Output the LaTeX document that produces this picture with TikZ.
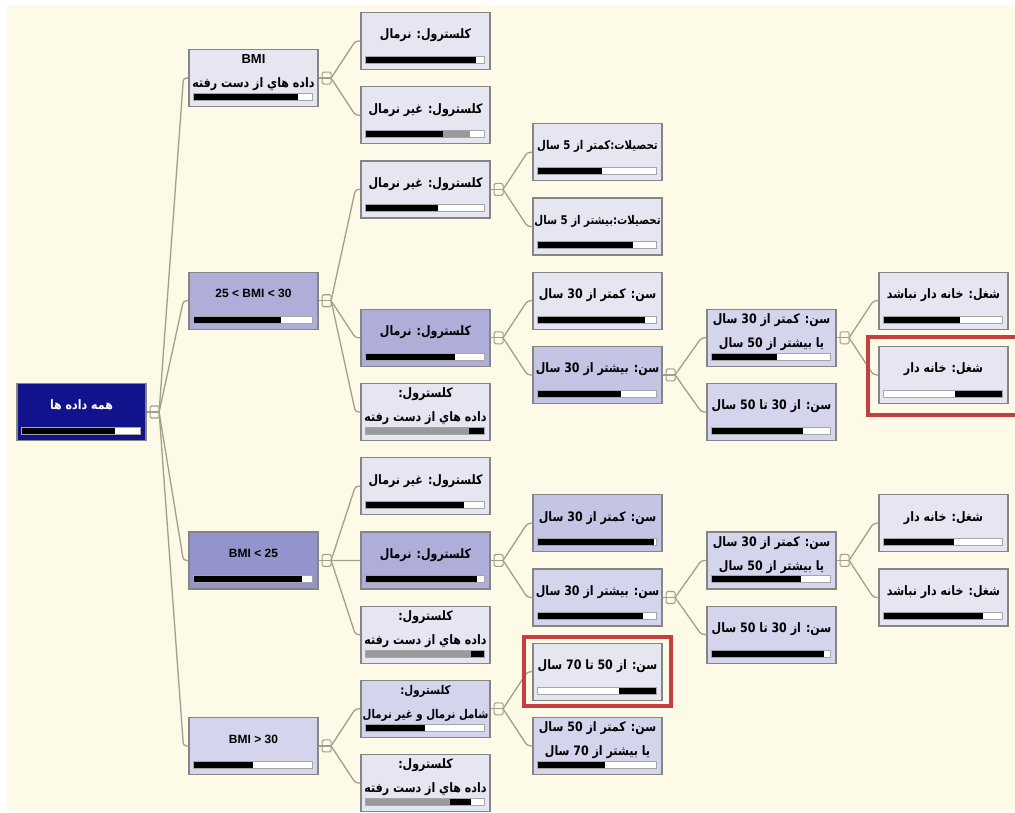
\documentclass[tikz,border=0pt]{standalone}
\usepackage{fontspec}
\setmainfont{Liberation Sans}
\newfontfamily\fafont[Script=Arabic, FakeStretch=0.85]{DejaVu Sans}
\TeXXeTstate=1
\newcommand{\fatext}[1]{{\fafont\bfseries\beginR #1\endR}}
\usetikzlibrary{positioning}

\definecolor{cream}{HTML}{FEFAE8}
\definecolor{boxline}{HTML}{858585}
\definecolor{linkcol}{HTML}{A19F8E}
\definecolor{navy}{HTML}{12128C}
\definecolor{lvA}{HTML}{E6E6F3}
\definecolor{lvB}{HTML}{D4D4EC}
\definecolor{lvC}{HTML}{C4C4E4}
\definecolor{lvD}{HTML}{AEAED9}
\definecolor{lvE}{HTML}{9494CD}
\definecolor{bargray}{HTML}{9A9A9A}
\definecolor{hired}{HTML}{C63E3E}

\begin{document}
\begin{tikzpicture}[
        node distance=16pt and 41.8pt,
        box/.style={draw=boxline, line width=1.2pt, fill=lvA, minimum width=129pt, minimum height=57pt,
            inner xsep=1pt, inner ysep=0pt, align=center, text depth=14pt, font=\fontsize{13}{24}\selectfont},
        small/.style={font=\fontsize{12}{24}\selectfont},
        latin/.style={font=\fontsize{12}{24}\selectfont\bfseries},
        link/.style={draw=linkcol, line width=1.3pt, rounded corners=3pt},
        knob/.style={draw=linkcol, line width=1.1pt, rounded corners=1.5pt},
        hilite/.style={draw=hired, line width=4pt}
    ]

    % قاب و پس زمینه
    \useasboundingbox (0,0) rectangle (1015pt,-812pt);
    \fill[cream] (7pt,-5pt) rectangle (1015pt,-809pt);

    % ریشه
    \node (root) [box, fill=navy, text=white] at (81.5pt,-412pt) {\fatext{همه داده ها}};

    % BMI
    \node (bmi2530) [box, latin, fill=lvD, right=of root, yshift=111.3pt] {25 < BMI < 30};
    \node (bmiA) [box, above=164.4pt of bmi2530] {\textbf{BMI}\\\fatext{داده هاي از دست رفته}};
    \node (bmiLow) [box, latin, fill=lvE, below=201.5pt of bmi2530] {BMI < 25};
    \node (bmiHigh) [box, latin, fill=lvB, below=127.3pt of bmiLow] {BMI > 30};

    % کلسترول
    \node (cholN1) [box, right=of bmiA, yshift=37.1pt] {\fatext{کلسترول: نرمال}};
    \node (cholAb1) [box, below=of cholN1] {\fatext{کلسترول: غیر نرمال}};
    \node (cholAb2) [box, below=of cholAb1] {\fatext{کلسترول: غیر نرمال}};
    \node (cholN2) [box, fill=lvD, below=90.2pt of cholAb2] {\fatext{کلسترول: نرمال}};
    \node (cholM2) [box, below=of cholN2] {\fatext{کلسترول:}\\\fatext{داده هاي از دست رفته}};
    \node (cholAb3) [box, below=of cholM2] {\fatext{کلسترول: غیر نرمال}};
    \node (cholN3) [box, fill=lvD, below=of cholAb3] {\fatext{کلسترول: نرمال}};
    \node (cholM3) [box, below=of cholN3] {\fatext{کلسترول:}\\\fatext{داده هاي از دست رفته}};
    \node (cholB4) [box, small, fill=lvB, below=of cholM3] {\fatext{کلسترول:}\\\fatext{شامل نرمال و غیر نرمال}};
    \node (cholM4) [box, below=of cholB4] {\fatext{کلسترول:}\\\fatext{داده هاي از دست رفته}};

    % تحصیلات و سن
    \node (educ1) [box, small, right=of cholAb2, yshift=37.1pt] {\fatext{تحصیلات:کمتر از 5 سال}};
    \node (educ2) [box, small, below=of educ1] {\fatext{تحصیلات:بیشتر از 5 سال}};
    \node (ageLo1) [box, below=of educ2] {\fatext{سن: کمتر از \beginL30\endL{} سال}};
    \node (ageHi1) [box, fill=lvC, below=of ageLo1] {\fatext{سن: بیشتر از \beginL30\endL{} سال}};
    \node (ageLo2) [box, fill=lvC, below=90.2pt of ageHi1] {\fatext{سن: کمتر از \beginL30\endL{} سال}};
    \node (ageHi2) [box, fill=lvB, below=of ageLo2] {\fatext{سن: بیشتر از \beginL30\endL{} سال}};
    \node (age5070) [box, below=of ageHi2] {\fatext{سن: از \beginL50\endL{} تا \beginL70\endL{} سال}};
    \node (ageOut) [box, fill=lvB, below=of age5070] {\fatext{سن: کمتر از \beginL50\endL{} سال}\\\fatext{یا بیشتر از \beginL70\endL{} سال}};

    \node (ageMix1) [box, fill=lvB, right=43.8pt of ageHi1, yshift=37.1pt] {\fatext{سن: کمتر از \beginL30\endL{} سال}\\\fatext{یا بیشتر از \beginL50\endL{} سال}};
    \node (ageMid1) [box, fill=lvB, below=of ageMix1] {\fatext{سن: از \beginL30\endL{} تا \beginL50\endL{} سال}};
    \node (ageMix2) [box, fill=lvB, below=90.2pt of ageMid1] {\fatext{سن: کمتر از \beginL30\endL{} سال}\\\fatext{یا بیشتر از \beginL50\endL{} سال}};
    \node (ageMid2) [box, fill=lvB, below=of ageMix2] {\fatext{سن: از \beginL30\endL{} تا \beginL50\endL{} سال}};

    % شغل
    \node (job1) [box, right=of ageMix1, yshift=37.1pt] {\fatext{شغل: خانه دار نباشد}};
    \node (job2) [box, below=of job1] {\fatext{شغل: خانه دار}};
    \node (job3) [box, right=of ageMix2, yshift=37.1pt] {\fatext{شغل: خانه دار}};
    \node (job4) [box, below=of job3] {\fatext{شغل: خانه دار نباشد}};

    % نوارها
    \foreach \n/\ga/\gb/\ba/\bb in {root/0/0/0/.79, bmiA/0/0/0/.88, bmi2530/0/0/0/.735, bmiLow/0/0/0/.915, bmiHigh/0/0/0/.50,
            cholN1/0/0/0/.93, cholAb1/.65/.88/0/.65, cholAb2/0/0/0/.61, cholN2/0/0/0/.755, cholM2/0/.87/.87/1,
            cholAb3/0/0/0/.83, cholN3/0/0/0/.94, cholM3/0/.89/.89/1, cholB4/0/0/0/.50, cholM4/0/.71/.71/.89,
            educ1/0/0/0/.54, educ2/0/0/0/.80, ageLo1/0/0/0/.90, ageHi1/0/0/0/.70, ageLo2/0/0/0/.98,
            ageHi2/0/0/0/.89, age5070/0/0/.685/1, ageOut/0/0/0/.57, ageMix1/0/0/0/.55, ageMid1/0/0/0/.77,
            ageMix2/0/0/0/.75, ageMid2/0/0/0/.95, job1/0/0/0/.645, job2/0/0/.60/1, job3/0/0/0/.59, job4/0/0/0/.84} {
        \coordinate (bl) at ([xshift=5pt, yshift=7pt]\n.south west);
        \fill[white] (bl) rectangle ++(119pt,7pt);
        \fill[bargray] ([xshift=\ga*119pt]bl) rectangle ([xshift=\gb*119pt, yshift=7pt]bl);
        \fill[black] ([xshift=\ba*119pt]bl) rectangle ([xshift=\bb*119pt, yshift=7pt]bl);
        \draw[gray!70, line width=.4pt] (bl) rectangle ++(119pt,7pt);
    }

    % اتصال ها
    \foreach \p/\kids in {root/{bmiA,bmi2530,bmiLow,bmiHigh}, bmiA/{cholN1,cholAb1}, bmi2530/{cholAb2,cholN2,cholM2},
            bmiLow/{cholAb3,cholN3,cholM3}, bmiHigh/{cholB4,cholM4}, cholAb2/{educ1,educ2}, cholN2/{ageLo1,ageHi1},
            cholN3/{ageLo2,ageHi2}, cholB4/{age5070,ageOut}, ageHi1/{ageMix1,ageMid1}, ageHi2/{ageMix2,ageMid2},
            ageMix1/{job1,job2}, ageMix2/{job3,job4}} {
        \draw[link] (\p.east) -- ++(12.5pt,0);
        \foreach \c in \kids
            \draw[link] ([xshift=12.5pt]\p.east) -- ([xshift=-5pt]\c.west) -- (\c.west);
        \draw[knob] ([xshift=3.5pt, yshift=-6pt]\p.east) rectangle ([xshift=12.5pt, yshift=6pt]\p.east);
    }

    % کادرهای قرمز
    \draw[hilite] ([shift={(-8pt,6pt)}]age5070.north west) rectangle ([shift={(8pt,-5pt)}]age5070.south east);
    \draw[hilite] ([shift={(-10pt,9pt)}]job2.north west) rectangle ([shift={(16pt,-11pt)}]job2.south east);
\end{tikzpicture}
\end{document}
